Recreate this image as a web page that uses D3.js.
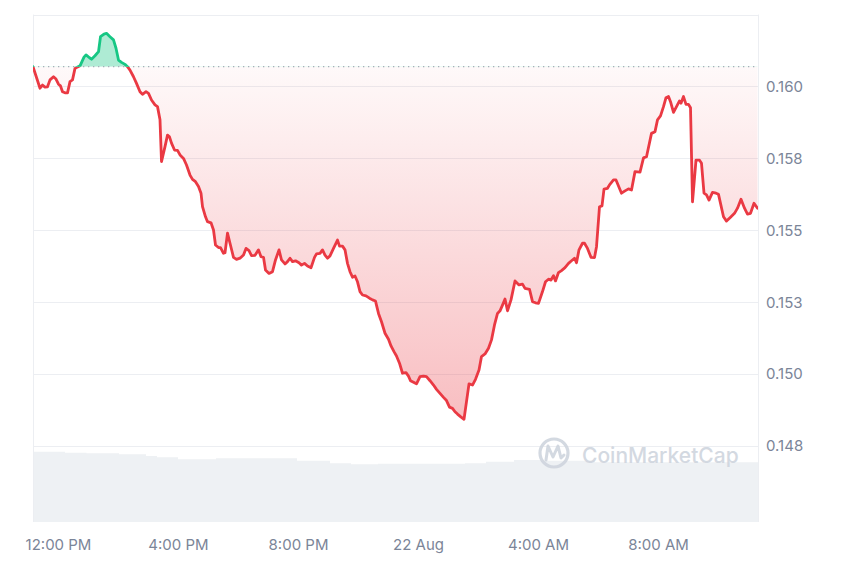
<!DOCTYPE html>
<html><head><meta charset="utf-8">
<script src="https://cdn.jsdelivr.net/npm/d3@7"></script>
<style>html,body{margin:0;padding:0;background:#fff}svg{display:block}</style>
</head><body>
<svg id="chart" width="850" height="567"></svg>
<script>
// ---------- data ----------
const startTime = new Date(2023, 7, 21, 11, 10);   // first sample, 21 Aug 11:10
const openPrice = 0.16069;                          // reference (dotted) line

const priceMinutes = [0,14,19,24,29,34,41,46,51,55,59,64,69,74,79,84,94,102,106,113,117,124,131,135,142,147,154,161,166,171,177,184,189,194,201,207,214,219,226,231,237,244,249,254,257,264,269,273,277,283,289,
294,301,307,314,319,325,331,336,339,345,349,356,361,365,371,375,381,384,389,394,401,407,414,421,426,432,437,444,451,456,461,465,472,479,485,492,497,504,509,514,519,525,532,537,543,549,556,563,567,574,579,
584,589,594,601,609,613,619,624,629,634,639,644,649,654,659,666,673,679,685,691,697,704,711,716,722,727,733,739,746,751,755,763,767,774,781,787,794,801,807,814,821,827,833,839,844,849,855,862,
872,879,885,892,897,904,911,917,923,929,934,939,944,949,956,964,972,979,984,993,999,1005,1011,1019,1025,1031,1036,1041,1045,1051,1057,1064,1071,1077,1083,1087,1092,1099,1103,1109,1116,1123,1127,1133,1138,1142,1149,1153,1161,1166,1171,1177,1184,1191,1197,1204,1214,1221,1227,1237,1244,1249,1255,1261,1266,1271,1275,1281,1287,1293,1296,1301,1306,1311,1315,1319,1326,1333,1337,1342,1347,1352,1359,1366,1371,1381,1387,1394,1403,1409,1416,1423,1429,1435,1442,1449];

const prices = [0.16069,0.15994,0.16005,0.15998,0.15999,0.16023,0.16034,0.16026,0.16008,0.16002,0.15982,0.15978,0.15978,0.16017,0.16023,0.16063,0.16072,0.16102,0.16110,0.16100,0.16095,0.16107,0.16121,0.16173,0.16182,0.16185,0.16173,0.16162,0.16133,0.16092,0.16084,0.16077,0.16069,0.16057,0.16034,0.16011,0.15982,0.15973,0.15982,0.15976,0.15953,0.15936,0.15930,0.15884,0.15739,0.15791,0.15831,0.15825,0.15803,0.15779,0.15778,
0.15762,0.15750,0.15727,0.15692,0.15677,0.15669,0.15652,0.15629,0.15582,0.15547,0.15530,0.15526,0.15501,0.15449,0.15440,0.15440,0.15420,0.15422,0.15490,0.15455,0.15406,0.15399,0.15403,0.15414,0.15437,0.15429,0.15412,0.15413,0.15432,0.15408,0.15406,0.15362,0.15350,0.15356,0.15397,0.15432,0.15397,0.15383,0.15391,0.15403,0.15391,0.15394,0.15387,0.15379,0.15385,0.15376,0.15370,0.15406,0.15418,0.15420,0.15432,
0.15414,0.15403,0.15411,0.15437,0.15466,0.15445,0.15445,0.15432,0.15385,0.15356,0.15337,0.15341,0.15321,0.15287,0.15275,0.15272,0.15264,0.15258,0.15254,0.15211,0.15182,0.15142,0.15121,0.15098,0.15078,0.15063,0.15038,0.15003,0.15005,0.14993,0.14977,0.14970,0.14966,0.14991,0.14993,0.14991,0.14977,0.14962,0.14947,0.14933,0.14919,0.14908,0.14885,0.14881,0.14869,0.14861,0.14852,0.14843,
0.14966,0.14962,0.14982,0.15014,0.15061,0.15070,0.15090,0.15119,0.15171,0.15211,0.15220,0.15240,0.15261,0.15220,0.15258,0.15324,0.15310,0.15313,0.15298,0.15295,0.15252,0.15248,0.15246,0.15287,0.15321,0.15330,0.15327,0.15342,0.15324,0.15353,0.15360,0.15370,0.15385,0.15394,0.15403,0.15387,0.15432,0.15455,0.15455,0.15437,0.15406,0.15405,0.15443,0.15582,0.15585,0.15643,0.15646,0.15658,0.15675,0.15675,0.15654,0.15629,0.15637,0.15644,0.15640,0.15704,0.15702,0.15752,0.15756,0.15837,0.15843,0.15884,0.15898,0.15930,0.15961,0.15965,0.15947,0.15910,0.15930,0.15950,0.15942,0.15965,0.15938,0.15938,0.15926,0.15599,0.15744,0.15744,0.15733,0.15629,0.15623,0.15605,0.15632,0.15629,0.15625,0.15547,0.15532,0.15544,0.15559,0.15577,0.15608,0.15577,0.15556,0.15559,0.15594,0.15577];

const volumeMinutes = [0,64,107,172,226,248,290,366,452,528,594,636,690,864,906,962,1016,1124,1450];
const volumes = [100.4,99.0,98.1,96.7,94.3,92.4,89.6,91.0,91.0,87.6,83.9,82.4,83.3,83.9,86.1,88.6,87.6,85.3,83.9];

const yTickValues = [0.1475,0.1500,0.1525,0.1550,0.1575,0.1600];
const yTickLabels = ["0.148","0.150","0.153","0.155","0.158","0.160"];
const xTickMinutes = [50,290,530,770,1010,1250];
const xTickLabels = ["12:00 PM","4:00 PM","8:00 PM","22 Aug","4:00 AM","8:00 AM"];

// ---------- setup ----------
const toDate = m => new Date(startTime.getTime() + m * 60000);
const series = priceMinutes.map((m, i) => ({t: toDate(m), v: prices[i]}));
const volSeries = volumeMinutes.map((m, i) => ({t: toDate(m), v: volumes[i]}));

const L = 33, R = 758, T = 14.6, B = 522;
const svg = d3.select("#chart");
const font = "Inter, 'Noto Sans', sans-serif";

const x = d3.scaleTime().domain([toDate(0), toDate(1450)]).range([L, R]);
const y = d3.scaleLinear().domain([0.1475, 0.1625]).range([446, T]);
const yv = d3.scaleLinear().domain([0, 110]).range([B, 445]);

const defs = svg.append("defs");
const y0 = y(openPrice);
defs.append("clipPath").attr("id","clipUp").append("rect").attr("x",L).attr("y",0).attr("width",R-L).attr("height",y0);
defs.append("clipPath").attr("id","clipDown").append("rect").attr("x",L).attr("y",y0).attr("width",R-L).attr("height",B-y0);
const grad = defs.append("linearGradient").attr("id","redGrad").attr("gradientUnits","userSpaceOnUse")
  .attr("x1",0).attr("x2",0).attr("y1",y0).attr("y2",y(d3.min(prices)));
grad.append("stop").attr("offset",0).attr("stop-color","#ea3943").attr("stop-opacity",0.03);
grad.append("stop").attr("offset",1).attr("stop-color","#ea3943").attr("stop-opacity",0.33);

// volume
svg.append("path").datum(volSeries)
  .attr("d", d3.area().x(d => x(d.t)).y0(B).y1(d => yv(d.v)).curve(d3.curveStepAfter))
  .attr("fill", "#eef1f4");

// grid
const gridVals = yTickValues.concat([0.1625]);
svg.append("g").selectAll("line").data(gridVals).join("line")
  .attr("x1", L).attr("x2", R).attr("y1", d => Math.round(y(d)) + 0.5).attr("y2", d => Math.round(y(d)) + 0.5)
  .attr("stroke", "#eceef2").attr("stroke-width", 1);
svg.append("line").attr("x1", L+0.5).attr("x2", L+0.5).attr("y1", T).attr("y2", B).attr("stroke","#eceef2");
svg.append("line").attr("x1", R+0.5).attr("x2", R+0.5).attr("y1", T).attr("y2", B).attr("stroke","#eceef2");

// watermark
const wm = svg.append("g").attr("opacity", 0.9);
wm.append("circle").attr("cx", 554).attr("cy", 453).attr("r", 14).attr("fill","none").attr("stroke","#cfd5de").attr("stroke-width",3.2);
wm.append("path").attr("d","M546,460 L548,446 L553,457 L558,446 L561,458 L564,455")
  .attr("fill","none").attr("stroke","#cfd5de").attr("stroke-width",3).attr("stroke-linejoin","round").attr("stroke-linecap","round");
wm.append("text").attr("x", 582).attr("y", 463).text("CoinMarketCap")
  .attr("font-family", font).attr("font-size", 21).attr("font-weight", 500).attr("fill", "#cfd5de");

// areas
const area = d3.area().x(d => x(d.t)).y0(y0).y1(d => y(d.v));
svg.append("path").datum(series).attr("d", area).attr("fill", "url(#redGrad)").attr("clip-path","url(#clipDown)");
svg.append("path").datum(series).attr("d", area).attr("fill", "#16c784").attr("fill-opacity", 0.35).attr("clip-path","url(#clipUp)");

// baseline
svg.append("line").attr("x1", L).attr("x2", R).attr("y1", y0).attr("y2", y0)
  .attr("stroke", "#a6adb9").attr("stroke-width", 1.3).attr("stroke-dasharray", "1.3,3.7");

// lines
const line = d3.line().x(d => x(d.t)).y(d => y(d.v));
svg.append("path").datum(series).attr("d", line).attr("fill","none").attr("stroke","#ea3943")
  .attr("stroke-width", 2.8).attr("stroke-linejoin","round").attr("stroke-linecap","round").attr("clip-path","url(#clipDown)");
svg.append("path").datum(series).attr("d", line).attr("fill","none").attr("stroke","#16c784")
  .attr("stroke-width", 2.8).attr("stroke-linejoin","round").attr("stroke-linecap","round").attr("clip-path","url(#clipUp)");

// axes
const yAxis = d3.axisRight(y).tickValues(yTickValues).tickSize(0).tickPadding(8)
  .tickFormat((d, i) => yTickLabels[i]);
const gy = svg.append("g").attr("transform", `translate(${R},0)`).call(yAxis);
gy.select(".domain").remove();
gy.selectAll("text").attr("font-family", font).attr("font-size", 15).attr("fill", "#7b8598");

const xAxis = d3.axisBottom(x).tickValues(xTickMinutes.map(toDate)).tickSize(0).tickPadding(17)
  .tickFormat((d, i) => xTickLabels[i]);
const gx = svg.append("g").attr("transform", `translate(0,${B})`).call(xAxis);
gx.select(".domain").remove();
gx.selectAll("text").attr("font-family", font).attr("font-size", 15).attr("fill", "#7b8598");
</script>
</body></html>
